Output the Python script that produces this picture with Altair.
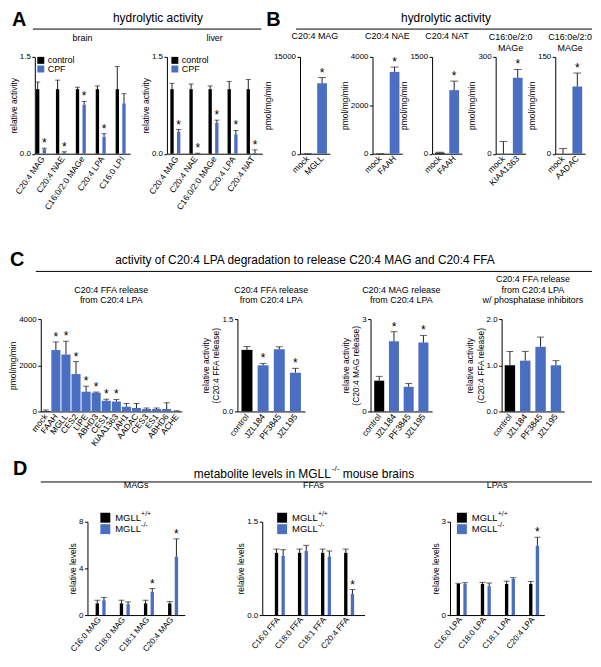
import altair as alt
import pandas as pd

# ======================= DATA =======================
# ---- A: hydrolytic activity (relative), brain and liver, control vs CPF
a_groups = ["control", "CPF"]

a_brain_cats = ["C20:4 MAG", "C20:4 NAE", "C16:0/2:0 MAGe", "C20:4 LPA", "C16:0 LPI"]
a_brain_ctrl = [1.0, 1.0, 1.0, 1.0, 1.0]
a_brain_ctrl_err = [0.11, 0.14, 0.03, 0.05, 0.35]
a_brain_cpf = [0.07, 0.02, 0.76, 0.26, 0.78]
a_brain_cpf_err = [0.015, 0.01, 0.05, 0.05, 0.15]
a_brain_cpf_sig = [1, 1, 1, 1, 0]

a_liver_cats = ["C20:4 MAG", "C20:4 NAE", "C16:0/2:0 MAGe", "C20:4 LPA", "C20:4 NAT"]
a_liver_ctrl = [1.0, 1.0, 1.0, 1.0, 1.0]
a_liver_ctrl_err = [0.09, 0.08, 0.05, 0.12, 0.15]
a_liver_cpf = [0.34, 0.005, 0.48, 0.30, 0.01]
a_liver_cpf_err = [0.035, 0.003, 0.04, 0.06, 0.05]
a_liver_cpf_sig = [1, 1, 1, 1, 1]

# ---- B: hydrolytic activity of overexpressed enzymes (pmol/mg/min)
b_titles = [["C20:4 MAG"], ["C20:4 NAE"], ["C20:4 NAT"], ["C16:0e/2:0", "MAGe"], ["C16:0e/2:0", "MAGe"]]
b_cats = [["mock", "MGLL"], ["mock", "FAAH"], ["mock", "FAAH"], ["mock", "KIAA1363"], ["mock", "AADAC"]]
b_vals = [[0, 10900], [0, 3380], [15, 985], [0, 235], [0, 104]]
b_errs = [[0, 900], [0, 200], [8, 140], [38, 26], [8, 21]]
b_sig = [[0, 1], [0, 1], [0, 1], [0, 1], [0, 1]]
b_ymax = [15000, 4000, 1500, 300, 150]
b_yticks = [[0, 5000, 10000, 15000], [0, 1000, 2000, 3000, 4000], [0, 500, 1000, 1500],
            [0, 100, 200, 300], [0, 50, 100, 150]]

# ---- C: C20:4 LPA degradation
c1_cats = ["mock", "FAAH", "MGLL", "CES2", "LIPE", "ABHD3", "CES1", "KIAA1363",
           "IAH1", "AADAC", "CES3", "ES1", "ABHD6", "ACHE"]
c1_vals = [20, 2660, 2470, 1620, 855, 810, 460, 430, 205, 150, 105, 105, 105, 10]
c1_errs = [45, 350, 570, 540, 240, 30, 70, 90, 140, 195, 45, 45, 270, 20]
c1_sig = [0, 1, 1, 1, 1, 1, 1, 1, 0, 0, 0, 0, 0, 0]

c_inhib_cats = ["control", "JZL184", "PF3845", "JZL195"]
c2_vals = [1.0, 0.75, 1.01, 0.63]
c2_errs = [0.055, 0.03, 0.04, 0.07]
c2_sig = [0, 1, 0, 1]
c3_vals = [1.0, 2.28, 0.80, 2.24]
c3_errs = [0.14, 0.31, 0.11, 0.23]
c3_sig = [0, 1, 0, 1]
c4_vals = [1.0, 1.1, 1.4, 1.0]
c4_errs = [0.3, 0.2, 0.21, 0.1]
c4_sig = [0, 0, 0, 0]

# ---- D: metabolite levels in MGLL-/- brains (relative levels)
d_groups = ["MGLL+/+", "MGLL-/-"]
d_mag_cats = ["C16:0 MAG", "C18:0 MAG", "C18:1 MAG", "C20:4 MAG"]
d_mag_wt = [1.0, 1.0, 1.0, 1.0]
d_mag_wt_err = [0.27, 0.27, 0.27, 0.15]
d_mag_ko = [1.27, 0.94, 1.98, 5.0]
d_mag_ko_err = [0.24, 0.19, 0.29, 1.53]
d_mag_sig = [0, 0, 1, 1]

d_ffa_cats = ["C16:0 FFA", "C18:0 FFA", "C18:1 FFA", "C20:4 FFA"]
d_ffa_wt = [1.0, 1.0, 1.0, 1.0]
d_ffa_wt_err = [0.06, 0.06, 0.06, 0.06]
d_ffa_ko = [0.95, 1.03, 0.94, 0.34]
d_ffa_ko_err = [0.10, 0.09, 0.09, 0.07]
d_ffa_sig = [0, 0, 0, 1]

d_lpa_cats = ["C16:0 LPA", "C18:0 LPA", "C18:1 LPA", "C20:4 LPA"]
d_lpa_wt = [1.0, 1.0, 1.0, 1.0]
d_lpa_wt_err = [0.02, 0.05, 0.09, 0.08]
d_lpa_ko = [1.0, 0.93, 1.16, 2.23]
d_lpa_ko_err = [0.04, 0.10, 0.04, 0.27]
d_lpa_sig = [0, 0, 0, 1]

# ======================= STYLE =======================
FONT = "Liberation Sans"
BLUE = "#4a6fc2"
BLACK = "#000000"
ERR = "#222222"
ONE = pd.DataFrame({"k": [0]})


def grouped_df(cats, groups, vals_list, errs_list, sig_list):
    rows = []
    for g, vals, errs, sigs in zip(groups, vals_list, errs_list, sig_list):
        for c, v, e, s in zip(cats, vals, errs, sigs):
            rows.append({"cat": c, "grp": g, "v": v, "top": v + e, "star": "*" if s else ""})
    return pd.DataFrame(rows)


def single_df(cats, vals, errs, sigs):
    rows = []
    for i, (c, v, e, s) in enumerate(zip(cats, vals, errs, sigs)):
        rows.append({"cat": c, "grp": "ctrl" if i == 0 else "treat", "v": v,
                     "top": v + e, "star": "*" if s else ""})
    return pd.DataFrame(rows)


def txt(x, y, text, size=9, weight="normal", align="left", baseline="middle"):
    return alt.Chart(ONE).mark_text(text=text, fontSize=size, fontWeight=weight, align=align,
                                    baseline=baseline, color="black").encode(
        x=alt.value(x), y=alt.value(y))


def sq(x, y, side, color, opacity=1):
    return alt.Chart(ONE).mark_square(size=side * side, color=color, filled=True,
                                      opacity=opacity).encode(x=alt.value(x), y=alt.value(y))


def hline(x1, x2, y):
    return alt.Chart(ONE).mark_rule(color="black", strokeWidth=1).encode(
        x=alt.value(x1), x2=alt.value(x2), y=alt.value(y))


def panel(df, cats, groups, colors, ymax, yticks, yfmt, ytitle, w, h, pi, po, title, toff,
          cap, grouped=True, legend=None, star_dy=-5, angle=-55, xfs=8.5):
    x = alt.X("cat:N", sort=cats, scale=alt.Scale(paddingInner=pi, paddingOuter=po),
              axis=alt.Axis(title=None, labelAngle=angle, labelAlign="right",
                            labelBaseline="middle", ticks=False, labelPadding=3,
                            labelFontSize=xfs, domainColor="black", labelColor="black",
                            domainWidth=1))
    enc = {"x": x}
    if grouped:
        enc["xOffset"] = alt.XOffset("grp:N", sort=groups,
                                     scale=alt.Scale(paddingInner=0, paddingOuter=0))
    yscale = alt.Scale(domain=[0, ymax], nice=False, zero=True)
    yaxis = alt.Axis(values=yticks, format=yfmt, title=ytitle, titleFontSize=8.5,
                     titleFontWeight="normal", labelFontSize=8, tickSize=3, labelPadding=1.5,
                     titlePadding=1, grid=False, domainColor="black", tickColor="black",
                     labelColor="black", titleColor="black")
    color = alt.Color("grp:N", scale=alt.Scale(domain=groups, range=colors), legend=None)
    base = alt.Chart(df)
    bars = base.mark_bar().encode(y=alt.Y("v:Q", scale=yscale, axis=yaxis), color=color, **enc)
    err = base.mark_rule(color=ERR, strokeWidth=1).encode(y="v:Q", y2="top:Q", **enc)
    capm = base.mark_tick(color=ERR, thickness=1, size=cap, orient="horizontal").encode(
        y="top:Q", **enc)
    stars = base.mark_text(fontSize=12, dy=star_dy, color="black", baseline="middle").encode(
        y="top:Q", text="star:N", **enc)
    layers = [bars, err, capm, stars] + (legend or [])
    return alt.layer(*layers).properties(
        width=w, height=h,
        title=alt.TitleParams(text=title, offset=toff, fontSize=9, fontWeight="normal",
                              color="black", anchor="middle", lineHeight=10.5, frame="group"))


def spacer(w, h=1):
    return alt.Chart(ONE).mark_point(opacity=0).encode(x=alt.value(0), y=alt.value(0)).properties(
        width=w, height=h)


def legend_ctrl(x0):
    return [sq(x0, 3.5, 7, BLACK), txt(x0 + 7, 3.5, "control", 9),
            sq(x0, 12.2, 7, BLUE), txt(x0 + 7, 12.2, "CPF", 9)]


def legend_mgll(x0):
    return [sq(x0, -4, 10, BLACK), txt(x0 + 10, -4, "MGLL", 9.5), txt(x0 + 36, -8, "+/+", 7),
            sq(x0, 7.5, 10, BLUE), txt(x0 + 10, 7.5, "MGLL", 9.5), txt(x0 + 36, 3.5, "-/-", 7)]


# ======================= PANELS =======================
H1 = 97.5
brain = panel(grouped_df(a_brain_cats, a_groups, [a_brain_ctrl, a_brain_cpf],
                         [a_brain_ctrl_err, a_brain_cpf_err], [[0] * 5, a_brain_cpf_sig]),
              a_brain_cats, a_groups, [BLACK, BLUE], 1.5, [0, 0.5, 1.0, 1.5], ".1f",
              "relative activity", 96, H1, 0.33, 0.06, ["brain"], 10, 5, legend=legend_ctrl(6))
liver = panel(grouped_df(a_liver_cats, a_groups, [a_liver_ctrl, a_liver_cpf],
                         [a_liver_ctrl_err, a_liver_cpf_err], [[0] * 5, a_liver_cpf_sig]),
              a_liver_cats, a_groups, [BLACK, BLUE], 1.5, [0, 0.5, 1.0, 1.5], ".1f",
              "relative activity", 96, H1, 0.36, 0.18, ["liver"], 10, 5, legend=legend_ctrl(8))

b_panels = []
for i in range(5):
    toff = 12 if len(b_titles[i]) == 1 else 0
    b_panels.append(panel(single_df(b_cats[i], b_vals[i], b_errs[i], b_sig[i]), b_cats[i],
                          ["ctrl", "treat"], [BLACK, BLUE], b_ymax[i], b_yticks[i], "d",
                          "pmol/mg/min", 30, H1, 0.32, 0.2, b_titles[i], toff, 8, grouped=False,
                          angle=-45))

HC = 93
c1 = panel(single_df(c1_cats, c1_vals, c1_errs, c1_sig), c1_cats, ["ctrl", "treat"], [BLACK, BLUE],
           4000, [0, 1000, 2000, 3000, 4000], "d", "pmol/mg/min", 142, HC, 0.1, 0.05,
           ["C20:4 FFA release", "from C20:4 LPA"], 10, 6, grouped=False, angle=-52)
c2 = panel(single_df(c_inhib_cats, c2_vals, c2_errs, c2_sig), c_inhib_cats, ["ctrl", "treat"],
           [BLACK, BLUE], 1.5, [0, 0.5, 1.0, 1.5], ".1f",
           ["relative activity", "(C20:4 FFA release)"], 68, HC, 0.32, 0.25,
           ["C20:4 FFA release", "from C20:4 LPA"], 10, 7, grouped=False, angle=-52)
c3 = panel(single_df(c_inhib_cats, c3_vals, c3_errs, c3_sig), c_inhib_cats, ["ctrl", "treat"],
           [BLACK, BLUE], 3, [0, 1, 2, 3], "d",
           ["relative activity", "(C20:4 MAG release)"], 62, HC, 0.32, 0.25,
           ["C20:4 MAG release", "from C20:4 LPA"], 10, 7, grouped=False, angle=-52)
c4 = panel(single_df(c_inhib_cats, c4_vals, c4_errs, c4_sig), c_inhib_cats, ["ctrl", "treat"],
           [BLACK, BLUE], 2.0, [0, 0.5, 1.0, 1.5, 2.0], ".1f",
           ["relative activity", "(C20:4 FFA release)"], 63, HC, 0.32, 0.2,
           ["C20:4 FFA release", "from C20:4 LPA", "w/ phosphatase inhibitors"], 10, 7,
           grouped=False, angle=-52)

HD = 94
d1 = panel(grouped_df(d_mag_cats, d_groups, [d_mag_wt, d_mag_ko], [d_mag_wt_err, d_mag_ko_err],
                      [[0] * 4, d_mag_sig]), d_mag_cats, d_groups, [BLACK, BLUE], 8,
           [0, 2, 4, 6, 8], "d", "relative levels", 98, HD, 0.37, 0.2, ["MAGs"], 20, 6,
           legend=legend_mgll(18), angle=-50, xfs=8.2)
d2 = panel(grouped_df(d_ffa_cats, d_groups, [d_ffa_wt, d_ffa_ko], [d_ffa_wt_err, d_ffa_ko_err],
                      [[0] * 4, d_ffa_sig]), d_ffa_cats, d_groups, [BLACK, BLUE], 1.5,
           [0, 0.5, 1.0, 1.5], ".1f", "relative levels", 103, HD, 0.37, 0.4, ["FFAs"], 20, 6,
           legend=legend_mgll(20), angle=-50, xfs=8.2)
d3 = panel(grouped_df(d_lpa_cats, d_groups, [d_lpa_wt, d_lpa_ko], [d_lpa_wt_err, d_lpa_ko_err],
                      [[0] * 4, d_lpa_sig]), d_lpa_cats, d_groups, [BLACK, BLUE], 3,
           [0, 1, 2, 3], "d", "relative levels", 95, HD, 0.37, 0.14, ["LPAs"], 20, 6,
           legend=legend_mgll(12), angle=-50, xfs=8.2)

# ======================= HEADERS =======================
# layout origin is pinned by an invisible corner marker so that nothing shifts
W = 580
header1 = alt.layer(
    sq(-7, -7, 2, "white", opacity=0),
    txt(-5, 8, "A", 20, "bold", baseline="alphabetic"),
    txt(142, 0, "hydrolytic activity", 12, align="center"),
    hline(16, 246, 11),
    txt(251, 8, "B", 20, "bold", baseline="alphabetic"),
    txt(432, 0, "hydrolytic activity", 12, align="center"),
    hline(281, 579, 11),
).properties(width=W, height=38.5)

headerC = alt.layer(
    txt(-7, 113, "C", 20, "bold", baseline="alphabetic"),
    txt(290, 107, "activity of C20:4 LPA degradation to release C20:4 MAG and C20:4 FFA", 12,
        align="center"),
    hline(19, 579, 118),
).properties(width=W, height=166)

headerD = alt.layer(
    txt(-4, 64, "D", 20, "bold", baseline="alphabetic"),
    txt(316, 63, "metabolite levels in MGLL", 12, align="right"),
    txt(317, 58, "-/-", 8),
    txt(328, 63, "mouse brains", 12),
    hline(24, 579, 71),
).properties(width=W, height=111)

row1 = alt.hconcat(spacer(18), brain, spacer(37), liver, spacer(38), b_panels[0], spacer(43),
                   b_panels[1], spacer(30), b_panels[2], spacer(34), b_panels[3], spacer(30),
                   b_panels[4], spacing=0, bounds="flush")
rowC = alt.hconcat(spacer(24), c1, spacer(56), c2, spacer(66), c3, spacer(70), c4,
                   spacing=0, bounds="flush")
rowD = alt.hconcat(spacer(71), d1, spacer(78), d2, spacer(86), d3, spacing=0, bounds="flush")

# nested rows count as zero height in a flush layout: follow each by a vertical spacer
chart = alt.vconcat(header1, row1, spacer(1, H1), headerC, rowC, spacer(1, HC), headerD, rowD,
                    spacer(1, HD), spacing=0, bounds="flush")
chart = chart.properties(padding=0).configure(font=FONT).configure_view(stroke=None)

chart.save("out.html", embed_options={"renderer": "svg", "actions": False})
